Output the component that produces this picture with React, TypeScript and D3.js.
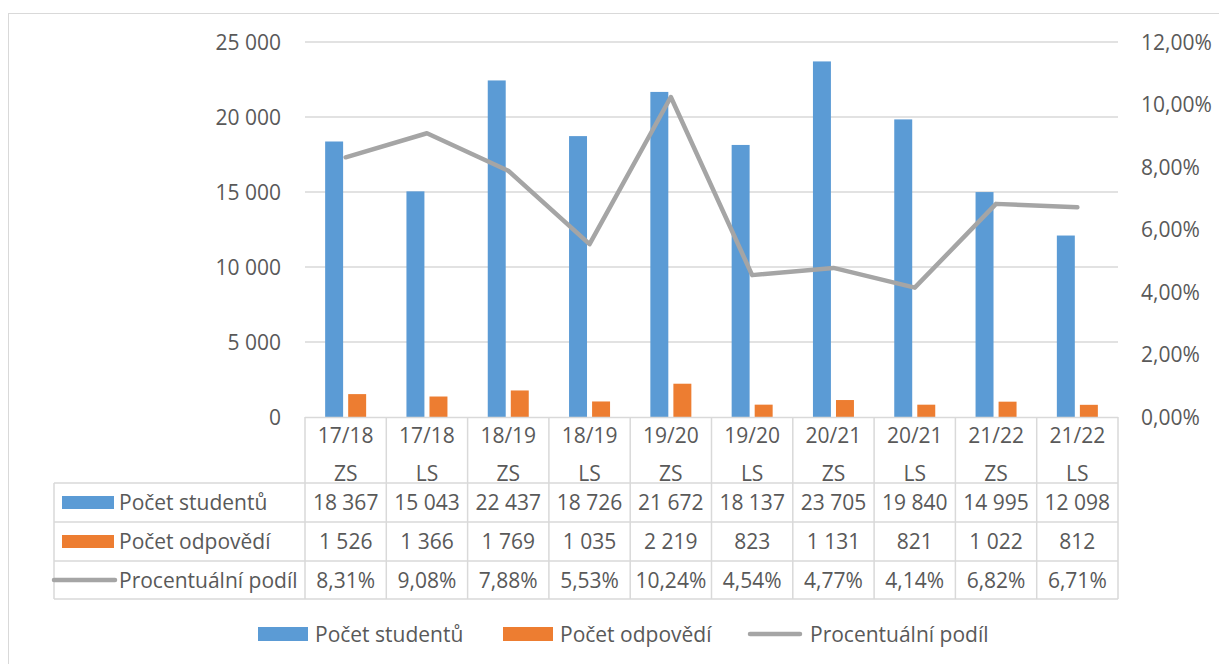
import { useEffect } from "react"
import * as d3 from "d3"

const categories = ["17/18 ZS", "17/18 LS", "18/19 ZS", "18/19 LS", "19/20 ZS", "19/20 LS", "20/21 ZS", "20/21 LS", "21/22 ZS", "21/22 LS"]
const students = [18367, 15043, 22437, 18726, 21672, 18137, 23705, 19840, 14995, 12098]
const responses = [1526, 1366, 1769, 1035, 2219, 823, 1131, 821, 1022, 812]
const share = [8.31, 9.08, 7.88, 5.53, 10.24, 4.54, 4.77, 4.14, 6.82, 6.71]
const leftTicks = [0, 5000, 10000, 15000, 20000, 25000]
const rightTicks = [0, 2, 4, 6, 8, 10, 12]
const seriesNames = ["Počet studentů", "Počet odpovědí", "Procentuální podíl"]

const BLUE = "#5B9BD5"
const ORANGE = "#ED7D31"
const GRAY = "#A5A5A5"
const TEXT = "#595959"
const GRID = "#D9D9D9"
const FONT = "'Open Sans', sans-serif"
const FS = 21

const cz = d3.formatLocale({ decimal: ",", thousands: "\u00a0", grouping: [3], currency: ["", " Kč"] })
const fmtInt = cz.format(",d")
const fmtPct = cz.format(".2f")

export default function App() {
  useEffect(() => {
    document.body.style.margin = "0"
  }, [])

  const W = 1219
  const H = 664
  const left = 305
  const right = 1118
  const top = 42
  const bottom = 417

  const x = d3.scaleBand<string>().domain(categories).range([left, right]).paddingInner(0).paddingOuter(0)
  const xGroup = d3.scaleBand<number>().domain([0, 1]).range([-20.5, 20.5]).paddingInner(0.22)
  const y = d3.scaleLinear().domain([0, 25000]).range([bottom, top])
  const y2 = d3.scaleLinear().domain([0, 12]).range([bottom, top])
  const cx = (i: number) => (x(categories[i]) ?? 0) + x.bandwidth() / 2

  const line = d3
    .line<number>()
    .x((_, i) => cx(i))
    .y((d) => y2(d))

  // table row borders
  const rowLines = [483, 522, 561, 599]
  const tableLeft = 54
  const rowData = [students.map(fmtInt), responses.map(fmtInt), share.map((d) => fmtPct(d) + "%")]

  return (
    <svg width={W} height={H} style={{ display: "block", fontFamily: FONT }}>
      <rect x={0} y={0} width={W} height={H} fill="white" />
      <rect x={8.5} y={13.5} width={W} height={H} fill="none" stroke={GRID} strokeWidth={1} />

      {/* gridlines */}
      {leftTicks.slice(1).map((t) => (
        <line key={t} x1={left} x2={right} y1={y(t)} y2={y(t)} stroke={GRID} strokeWidth={1.5} />
      ))}

      {/* left axis labels */}
      {leftTicks.map((t) => (
        <text key={t} x={281} y={y(t)} dy="0.36em" textAnchor="end" fontSize={FS} fill={TEXT}>
          {fmtInt(t)}
        </text>
      ))}

      {/* right axis labels */}
      {rightTicks.map((t) => (
        <text key={t} x={1141} y={y2(t)} dy="0.36em" textAnchor="start" fontSize={FS} fill={TEXT}>
          {fmtPct(t) + "%"}
        </text>
      ))}

      {/* bars */}
      {categories.map((c, i) => (
        <g key={c}>
          <rect x={cx(i) + (xGroup(0) ?? 0)} y={y(students[i])} width={xGroup.bandwidth()} height={bottom - y(students[i])} fill={BLUE} />
          <rect x={cx(i) + (xGroup(1) ?? 0)} y={y(responses[i])} width={xGroup.bandwidth()} height={bottom - y(responses[i])} fill={ORANGE} />
        </g>
      ))}

      {/* line */}
      <path d={line(share) ?? ""} fill="none" stroke={GRAY} strokeWidth={4.5} strokeLinecap="round" strokeLinejoin="round" />

      {/* data table */}
      <g stroke={GRID} strokeWidth={1.5}>
        <line x1={left} x2={right} y1={bottom + 0.5} y2={bottom + 0.5} />
        {rowLines.map((ry) => (
          <line key={ry} x1={tableLeft} x2={right} y1={ry} y2={ry} />
        ))}
        <line x1={tableLeft} x2={tableLeft} y1={rowLines[0]} y2={rowLines[3]} />
        {categories.map((c) => (
          <line key={c} x1={x(c)} x2={x(c)} y1={bottom} y2={rowLines[3]} />
        ))}
        <line x1={right} x2={right} y1={bottom} y2={rowLines[3]} />
      </g>

      {/* header labels */}
      {categories.map((c, i) => {
        const [yr, sem] = c.split(" ")
        return (
          <text key={c} textAnchor="middle" fontSize={FS} fill={TEXT}>
            <tspan x={cx(i)} y={443}>{yr}</tspan>
            <tspan x={cx(i)} y={481}>{sem}</tspan>
          </text>
        )
      })}

      {/* row headers & values */}
      {rowData.map((vals, r) => {
        const mid = (rowLines[r] + rowLines[r + 1]) / 2
        return (
          <g key={r}>
            {r < 2 ? (
              <rect x={62} y={mid - 6.5} width={52} height={13} fill={r === 0 ? BLUE : ORANGE} />
            ) : (
              <line x1={54} x2={115} y1={mid} y2={mid} stroke={GRAY} strokeWidth={4.5} strokeLinecap="round" />
            )}
            <text x={119} y={mid} dy="0.36em" fontSize={FS} fill={TEXT}>
              {seriesNames[r]}
            </text>
            {vals.map((v, i) => (
              <text key={i} x={cx(i)} y={mid} dy="0.36em" textAnchor="middle" fontSize={FS} fill={TEXT}>
                {v}
              </text>
            ))}
          </g>
        )
      })}

      {/* bottom legend */}
      <g>
        <rect x={258} y={627} width={50} height={14} fill={BLUE} />
        <text x={315} y={634} dy="0.36em" fontSize={FS} fill={TEXT}>{seriesNames[0]}</text>
        <rect x={503} y={627} width={50} height={14} fill={ORANGE} />
        <text x={560} y={634} dy="0.36em" fontSize={FS} fill={TEXT}>{seriesNames[1]}</text>
        <line x1={750} x2={800} y1={634} y2={634} stroke={GRAY} strokeWidth={4.5} strokeLinecap="round" />
        <text x={810} y={634} dy="0.36em" fontSize={FS} fill={TEXT}>{seriesNames[2]}</text>
      </g>
    </svg>
  )
}
